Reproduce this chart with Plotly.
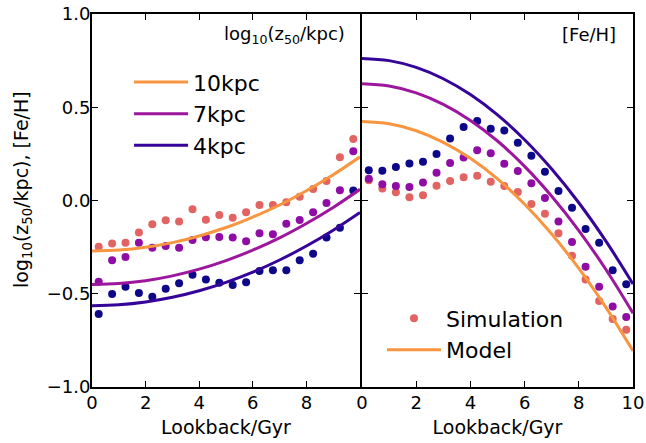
import plotly.graph_objects as go

# Lookback times of the simulation snapshots (Gyr)
sim_age = [0.25, 0.75, 1.25, 1.75, 2.25, 2.75, 3.25, 3.75, 4.25, 4.75,
           5.25, 5.75, 6.25, 6.75, 7.25, 7.75, 8.25, 8.75, 9.25, 9.75]

# Simulation: log10(z50/kpc) per radius
z50_sim_10 = [-0.248, -0.230, -0.226, -0.171, -0.128, -0.106, -0.113, -0.047, -0.103, -0.078,
              -0.092, -0.063, -0.024, -0.024, -0.010, 0.020, 0.062, 0.105, 0.232, 0.330]
z50_sim_7 = [-0.435, -0.321, -0.303, -0.226, -0.253, -0.244, -0.253, -0.212, -0.197, -0.196,
             -0.199, -0.219, -0.176, -0.181, -0.124, -0.105, -0.063, -0.013, 0.055, 0.264]
z50_sim_4 = [-0.609, -0.501, -0.462, -0.496, -0.516, -0.473, -0.444, -0.398, -0.423, -0.441,
             -0.453, -0.439, -0.378, -0.374, -0.374, -0.321, -0.285, -0.199, -0.146, 0.053]

# Simulation: [Fe/H] per radius
feh_sim_10 = [0.108, 0.065, 0.044, 0.017, 0.028, 0.079, 0.105, 0.124, 0.133, 0.101,
              0.078, 0.046, -0.019, -0.071, -0.176, -0.296, -0.423, -0.539, -0.635, -0.693]
feh_sim_7 = [0.117, 0.087, 0.078, 0.072, 0.096, 0.149, 0.201, 0.230, 0.269, 0.253,
             0.197, 0.158, 0.092, 0.013, -0.112, -0.223, -0.355, -0.462, -0.569, -0.625]
feh_sim_4 = [0.162, 0.160, 0.180, 0.199, 0.208, 0.249, 0.333, 0.394, 0.426, 0.385,
             0.376, 0.310, 0.240, 0.154, 0.051, -0.039, -0.153, -0.226, -0.374, -0.449]

# Model curves sampled on a 1 Gyr grid
model_age = [0, 1, 2, 3, 4, 5, 6, 7, 8, 9, 10]
z50_mod_10 = [-0.271, -0.266, -0.251, -0.226, -0.190, -0.145, -0.089, -0.024, 0.052, 0.138, 0.234]
z50_mod_7 = [-0.450, -0.445, -0.430, -0.404, -0.368, -0.322, -0.266, -0.200, -0.123, -0.037, 0.060]
z50_mod_4 = [-0.564, -0.559, -0.544, -0.519, -0.484, -0.439, -0.384, -0.319, -0.244, -0.159, -0.064]
feh_mod_10 = [0.423, 0.411, 0.374, 0.312, 0.226, 0.116, -0.020, -0.180, -0.364, -0.573, -0.807]
feh_mod_7 = [0.626, 0.614, 0.577, 0.515, 0.429, 0.319, 0.183, 0.023, -0.161, -0.370, -0.604]
feh_mod_4 = [0.762, 0.750, 0.714, 0.653, 0.568, 0.459, 0.326, 0.169, -0.012, -0.218, -0.448]

radii = ["10kpc", "7kpc", "4kpc"]
dot_colors = ["#e16462", "#8f0da4", "#0d0887"]
line_colors = ["#f89540", "#9c179e", "#350498"]

FONT = "DejaVu Sans"

fig = go.Figure()

z50_sim = [z50_sim_10, z50_sim_7, z50_sim_4]
z50_mod = [z50_mod_10, z50_mod_7, z50_mod_4]
feh_sim = [feh_sim_10, feh_sim_7, feh_sim_4]
feh_mod = [feh_mod_10, feh_mod_7, feh_mod_4]

# Left panel: scale height
for i, name in enumerate(radii):
    fig.add_trace(go.Scatter(
        x=sim_age, y=z50_sim[i], mode="markers",
        marker=dict(size=8, color=dot_colors[i], line=dict(width=0)),
        xaxis="x", yaxis="y", showlegend=False))
for i, name in enumerate(radii):
    fig.add_trace(go.Scatter(
        x=model_age, y=z50_mod[i], mode="lines", line_shape="spline",
        line=dict(width=3, color=line_colors[i]),
        xaxis="x", yaxis="y", name=name, legend="legend",
        legendgroup=name, showlegend=True))

# Right panel: metallicity
for i, name in enumerate(radii):
    fig.add_trace(go.Scatter(
        x=sim_age, y=feh_sim[i], mode="markers",
        marker=dict(size=8, color=dot_colors[i], line=dict(width=0)),
        xaxis="x2", yaxis="y2", name="Simulation", legend="legend2",
        legendgroup="sim", showlegend=(i == 0)))
for i, name in enumerate(radii):
    fig.add_trace(go.Scatter(
        x=model_age, y=feh_mod[i], mode="lines", line_shape="spline",
        line=dict(width=3, color=line_colors[i]),
        xaxis="x2", yaxis="y2", name="Model", legend="legend2",
        legendgroup="model", showlegend=(i == 0)))

PLOT_W = 541
split_left = 268 / PLOT_W
split_right = 270 / PLOT_W

axis_common = dict(
    showline=True, linecolor="black", linewidth=2, mirror="allticks",
    ticks="inside", ticklen=6, tickwidth=1, tickcolor="black",
    showgrid=False, zeroline=False, automargin=False,
    tickfont=dict(family=FONT, size=18, color="black"),
)

x_title = dict(text="Lookback/Gyr", font=dict(size=19), standoff=9)

fig.update_layout(
    width=646, height=443,
    margin=dict(l=92, r=13, t=14, b=56, autoexpand=False),
    paper_bgcolor="white", plot_bgcolor="white",
    font=dict(family=FONT, color="black"),
    xaxis=dict(domain=[0, split_left], range=[0, 10], tickvals=[0, 2, 4, 6, 8],
               anchor="y", title=x_title, ticklabelstandoff=-2, **axis_common),
    xaxis2=dict(domain=[split_right, 1], range=[0, 10], tickvals=[0, 2, 4, 6, 8, 10],
                anchor="y2", title=x_title, ticklabelstandoff=-2, **axis_common),
    yaxis=dict(range=[-1, 1], tickvals=[-1, -0.5, 0, 0.5, 1], tickformat=".1f",
               anchor="x", ticklabelstandoff=-4, **axis_common),
    yaxis2=dict(range=[-1, 1], tickvals=[-1, -0.5, 0, 0.5, 1], anchor="x2",
                showticklabels=False, **axis_common),
    legend=dict(x=0.0685, y=0.8733, xanchor="left", yanchor="top",
                bgcolor="rgba(0,0,0,0)", font=dict(family=FONT, size=22),
                itemwidth=54, traceorder="normal", tracegroupgap=4),
    legend2=dict(x=0.536, y=0.2404, xanchor="left", yanchor="top",
                 bgcolor="rgba(0,0,0,0)", font=dict(family=FONT, size=22),
                 itemwidth=54, traceorder="normal", tracegroupgap=2),
    annotations=[
        dict(text="log<sub>10</sub>(z<sub>50</sub>/kpc), [Fe/H]", xref="paper", yref="paper",
             x=-0.1294, y=0.5308, xanchor="center", yanchor="middle", textangle=-90,
             showarrow=False, font=dict(family=FONT, size=19)),
        dict(text="log<sub>10</sub>(z<sub>50</sub>/kpc)", xref="paper", yref="paper",
             x=0.4713, y=0.9437, xanchor="right", yanchor="middle", showarrow=False,
             font=dict(family=FONT, size=18)),
        dict(text="[Fe/H]", xref="paper", yref="paper",
             x=0.9723, y=0.9437, xanchor="right", yanchor="middle", showarrow=False,
             font=dict(family=FONT, size=18)),
    ],
)

fig.write_html("out.html")
